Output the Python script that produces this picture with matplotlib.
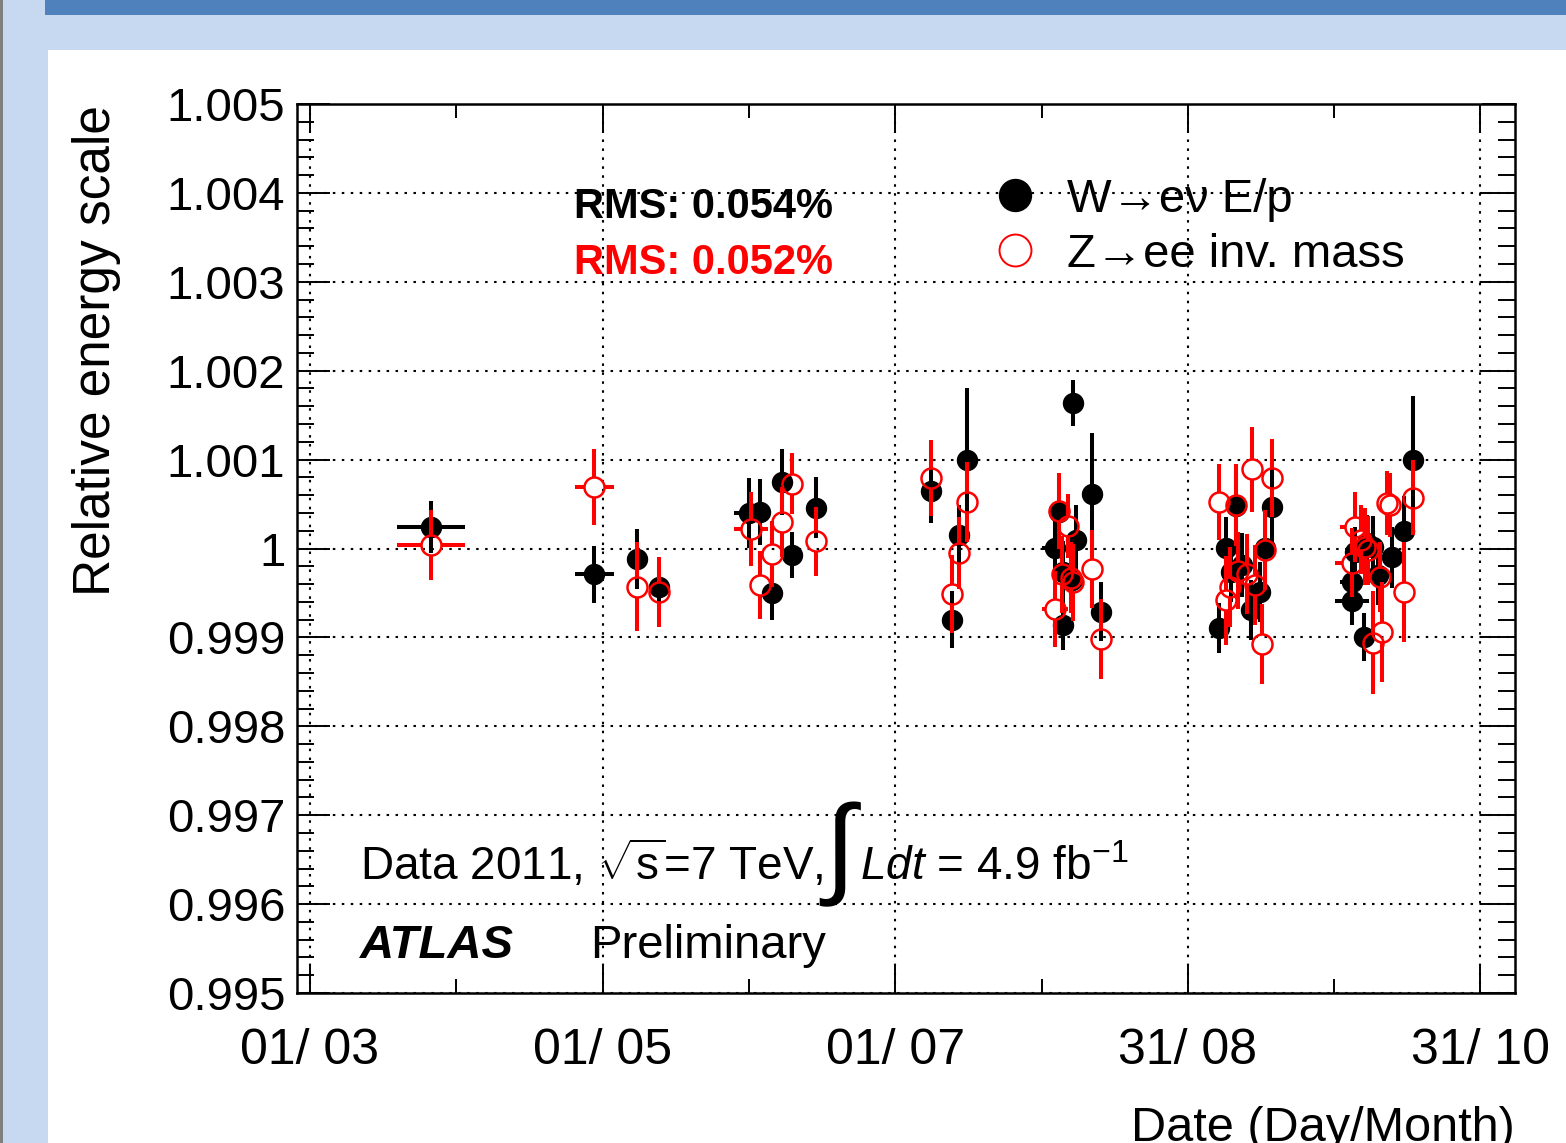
import matplotlib
matplotlib.use('Agg')
import matplotlib.pyplot as plt
from matplotlib.patches import Rectangle
from matplotlib.lines import Line2D
from matplotlib.ticker import FixedLocator, MultipleLocator, FuncFormatter

plt.rcParams['font.family'] = ['Liberation Sans', 'DejaVu Sans']
plt.rcParams['mathtext.fontset'] = 'custom'
plt.rcParams['mathtext.rm'] = 'Liberation Sans'
plt.rcParams['mathtext.it'] = 'Liberation Sans:italic'
plt.rcParams['mathtext.bf'] = 'Liberation Sans:bold'

# x = days since 01/03/2011
tick_days = [0, 61, 122, 183, 244]
tick_labels = ['01/ 03', '01/ 05', '01/ 07', '31/ 08', '31/ 10']

# W -> e nu, E/p
w_day = [25.2, 59.3, 68.2, 72.8, 91.6, 93.8, 96.3, 98.3, 100.4, 105.4,
         129.5, 133.9, 135.4, 136.9,
         155.3, 156.1, 157.0, 157.0, 158.8, 159.1, 159.7, 163.0, 164.9,
         189.5, 190.9, 192.0, 193.0, 194.3, 196.2, 198.0, 199.1, 200.5,
         217.2, 217.2, 217.8, 219.7, 220.4, 221.6, 222.6, 225.6, 228.1, 230.0]
w_val = [1.00024, 0.99971, 0.99988, 0.99957, 1.00040, 1.00041, 0.99950, 1.00075, 0.99993, 1.00046,
         1.00065, 0.99920, 1.00015, 1.00100,
         1.00001, 1.00041, 0.99974, 0.99914, 0.99965, 1.00164, 1.00010, 1.00061, 0.99929,
         0.99911, 1.00001, 0.99974, 1.00048, 0.99981, 0.99931, 0.99951, 1.00001, 1.00047,
         0.99941, 0.99962, 0.99996, 0.99900, 1.00006, 1.00002, 0.99970, 0.99990, 1.00020, 1.00100]
w_err = [0.00029, 0.00032, 0.00034, 0.00025, 0.00039, 0.00037, 0.00030, 0.00037, 0.00026, 0.00034,
         0.00036, 0.00032, 0.00034, 0.00081,
         0.00034, 0.00037, 0.00034, 0.00028, 0.00034, 0.00026, 0.00039, 0.00069, 0.00033,
         0.00028, 0.00034, 0.00034, 0.00039, 0.00036, 0.00034, 0.00034, 0.00039, 0.00042,
         0.00027, 0.00028, 0.00028, 0.00027, 0.00032, 0.00034, 0.00034, 0.00034, 0.00039, 0.00071]
w_xerr = [7.1, 4.1, 0, 0, 3.2, 0, 0, 0, 0, 0,
          0, 0, 0, 0,
          2.7, 0, 0, 0, 0, 0, 0, 0, 0,
          0, 0, 0, 0, 0, 0, 0, 0, 0,
          3.5, 2.5, 0, 0, 0, 0, 0, 0, 0, 0]

# Z -> ee, invariant mass
z_day = [25.2, 59.3, 68.2, 72.8, 91.9, 93.8, 96.3, 98.3, 100.4, 105.4,
         129.5, 133.9, 135.4, 136.9,
         155.3, 156.1, 156.8, 158.0, 158.6, 159.1, 163.0, 164.9,
         189.5, 190.9, 191.8, 193.0, 193.4, 195.3, 196.4, 197.0, 198.5, 199.1, 200.5,
         217.2, 217.8, 219.1, 219.9, 220.6, 221.6, 223.1, 223.5, 224.5, 225.1, 228.1, 230.0]
z_val = [1.00004, 1.00069, 0.99957, 0.99951, 1.00022, 0.99959, 0.99994, 1.00030, 1.00073, 1.00008,
         1.00079, 0.99949, 0.99995, 1.00052,
         0.99932, 1.00042, 0.99971, 1.00025, 0.99967, 0.99962, 0.99977, 0.99898,
         1.00052, 0.99942, 0.99957, 1.00049, 0.99975, 0.99971, 1.00089, 0.99959, 0.99893, 0.99998, 1.00079,
         0.99984, 1.00024, 1.00010, 1.00002, 0.99998, 0.99894, 0.99968, 0.99906, 1.00051, 1.00049, 0.99951, 1.00057]
z_err = [0.00039, 0.00043, 0.00050, 0.00039, 0.00042, 0.00038, 0.00037, 0.00039, 0.00034, 0.00039,
         0.00043, 0.00044, 0.00040, 0.00045,
         0.00043, 0.00043, 0.00043, 0.00036, 0.00040, 0.00043, 0.00044, 0.00045,
         0.00043, 0.00050, 0.00045, 0.00046, 0.00043, 0.00045, 0.00048, 0.00045, 0.00045, 0.00045, 0.00044,
         0.00039, 0.00039, 0.00039, 0.00043, 0.00039, 0.00058, 0.00039, 0.00056, 0.00036, 0.00036, 0.00056, 0.00042]
z_xerr = [7.1, 4.1, 0, 0, 3.5, 0, 0, 0, 0, 0,
          0, 0, 0, 0,
          2.7, 0, 0, 0, 0, 0, 0, 0,
          0, 0, 0, 0, 0, 0, 0, 0, 0, 0, 0,
          3.5, 3.0, 0, 0, 0, 0, 0, 0, 0, 0, 0, 0]

W, H = 1566, 1143
fig = plt.figure(figsize=(W / 100, H / 100), dpi=100)

def box(x0, y0, w, h, c):
    fig.add_artist(Rectangle((x0 / W, 1 - (y0 + h) / H), w / W, h / H,
                             transform=fig.transFigure, color=c, lw=0, zorder=0))

# slide background
box(0, 0, 3, H, '#7f7f7f')
box(3, 0, 45, H, '#c6d9f1')
box(3, 0, W - 3, 50, '#c6d9f1')
box(45, 0, W - 45, 15, '#4f81bd')

ax = fig.add_axes([297 / W, 1 - 993 / H, 1218 / W, 889 / H])
ax.set_xlim(-2.7, 251.2)
ax.set_ylim(0.995, 1.005)

# marker radius in data units, so the open-circle error bars stop at the edge
pos = ax.get_position()
gap_x = 10 * (251.2 + 2.7) / (pos.width * W)
gap_y = 10 * 0.01 / (pos.height * H)

ax.errorbar(w_day, w_val, yerr=w_err, xerr=w_xerr, fmt='o', color='black',
            ms=14.4, elinewidth=2.9, capsize=0, zorder=3)

ax.vlines(z_day, [v + gap_y for v in z_val], [v + e for v, e in zip(z_val, z_err)],
          color='red', lw=2.9, zorder=4)
ax.vlines(z_day, [v - e for v, e in zip(z_val, z_err)], [v - gap_y for v in z_val],
          color='red', lw=2.9, zorder=4)
for d, v, xe in zip(z_day, z_val, z_xerr):
    if xe > gap_x:
        ax.hlines([v, v], [d - xe, d + gap_x], [d - gap_x, d + xe], color='red', lw=2.9, zorder=4)
ax.plot(z_day, z_val, 'o', mfc='none', mec='red', ms=14.4, mew=1.8, zorder=5)

# axes, ticks, grid
ax.xaxis.set_major_locator(FixedLocator(tick_days))
ax.set_xticklabels(tick_labels)
ax.xaxis.set_minor_locator(MultipleLocator(30.5))
ax.yaxis.set_major_locator(MultipleLocator(0.001))
ax.yaxis.set_minor_locator(MultipleLocator(0.0002))
ax.yaxis.set_major_formatter(FuncFormatter(lambda v, p: f'{round(v, 4):g}'))

ax.tick_params(which='both', direction='in', top=True, right=True, width=1.4, colors='black')
ax.tick_params(axis='y', which='major', length=24, pad=8.5, labelsize=34)
ax.tick_params(axis='y', which='minor', length=12)
ax.tick_params(axis='x', which='major', length=20, pad=25, labelsize=36)
ax.tick_params(axis='x', which='minor', length=10)
for s in ax.spines.values():
    s.set_linewidth(1.8)
ax.grid(True, which='major', color='black', linestyle=(0, (1.2, 3.1)), linewidth=1.5)
ax.set_axisbelow(True)

fig.text(97 / W, 1 - 105 / H, 'Relative energy scale', rotation=90,
         ha='center', va='top', fontsize=37)
fig.text(1515 / W, 2 / H, 'Date (Day/Month)', ha='right', va='baseline', fontsize=35)

# RMS labels
ax.text(0.2274, 0.8718, 'RMS: 0.054%', transform=ax.transAxes, fontsize=30,
        fontweight='bold', color='black')
ax.text(0.2274, 0.8088, 'RMS: 0.052%', transform=ax.transAxes, fontsize=30,
        fontweight='bold', color='red')

# legend
handles = [Line2D([], [], ls='none', marker='o', color='black', ms=23),
           Line2D([], [], ls='none', marker='o', mfc='none', mec='red', ms=23, mew=1.4)]
ax.legend(handles, ['W\u2192e\u03bd E/p', 'Z\u2192ee inv. mass'], loc='upper left',
          bbox_to_anchor=(0.570, 0.917), frameon=False, fontsize=34, borderpad=0,
          handlelength=1.0, handletextpad=0.6, labelspacing=0.23, borderaxespad=0)

# annotations
ax.text(0.0517, 0.1271, r'Data 2011, $\sqrt{\mathrm{s}}$=7 TeV,', transform=ax.transAxes,
        fontsize=33)
ax.text((840 - 297) / 1218, (993 - 854) / 889, '\u222b', transform=ax.transAxes,
        fontsize=80, ha='center', va='center')
ax.text((860 - 297) / 1218, 0.1271, r'$Ldt$ = 4.9 fb$^{-1}$', transform=ax.transAxes, fontsize=33)
ax.text(0.0517, 0.0394, 'ATLAS', transform=ax.transAxes, fontsize=34,
        fontweight='bold', fontstyle='italic')
ax.text(0.2406, 0.0394, 'Preliminary', transform=ax.transAxes, fontsize=34)

fig.savefig('out.png', dpi=100)
